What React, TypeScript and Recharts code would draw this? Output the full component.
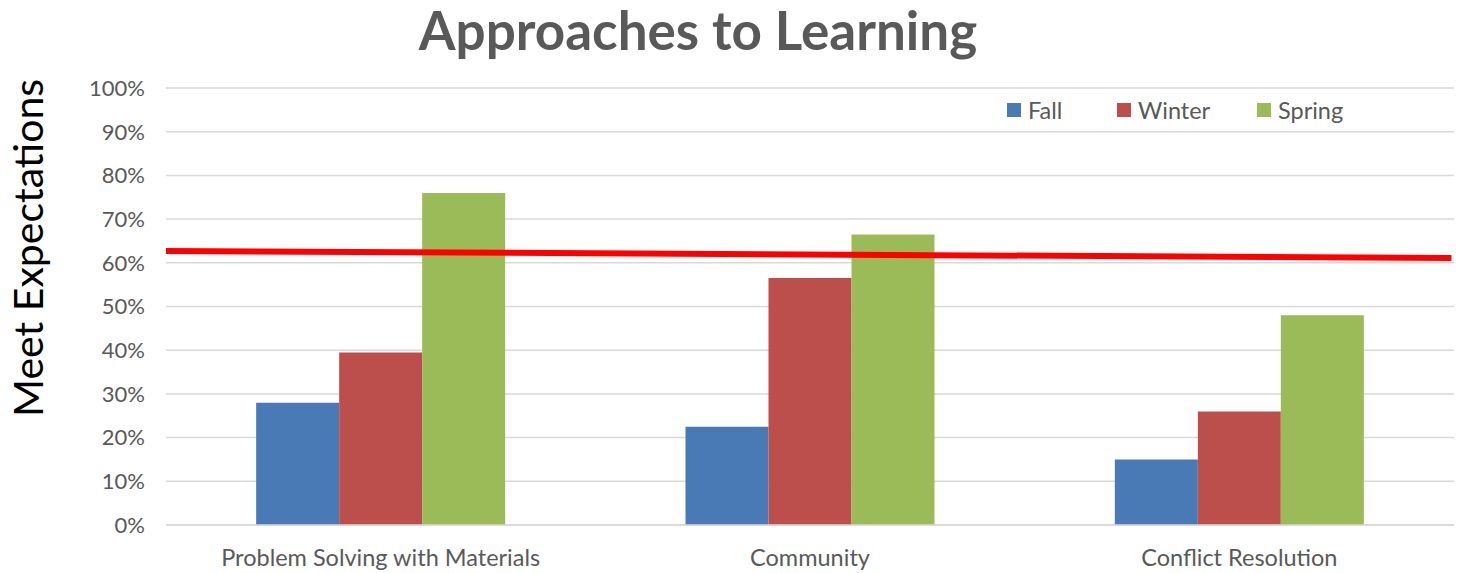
import React from 'react';
import {
  BarChart,
  Bar,
  XAxis,
  YAxis,
  CartesianGrid,
  ReferenceLine,
} from 'recharts';

const categories = ['Problem Solving with Materials', 'Community', 'Conflict Resolution'];
const fall = [28, 22.5, 15];
const winter = [39.5, 56.5, 26];
const spring = [76, 66.5, 48];
const yTicks = [0, 10, 20, 30, 40, 50, 60, 70, 80, 90, 100];
// hand-drawn target line, left and right ends
const targetLine = [62.7, 61.1];

const seriesColors = { Fall: '#4a7ab5', Winter: '#bc4f4b', Spring: '#9bbb58' };
const legendLeft = { Fall: 1007, Winter: 1117, Spring: 1257 };
const FONT = 'Lato, "Open Sans", sans-serif';

const data = categories.map((name, i) => ({
  name,
  Fall: fall[i],
  Winter: winter[i],
  Spring: spring[i],
}));

const LegendBox = () => (
  <>
    {(Object.keys(seriesColors) as (keyof typeof seriesColors)[]).map((k) => (
      <div
        key={k}
        style={{
          position: 'absolute',
          top: 96,
          left: legendLeft[k],
          height: 28,
          display: 'flex',
          alignItems: 'center',
          fontFamily: FONT,
          fontSize: 23.5,
          color: '#595959',
        }}
      >
        <span style={{ width: 14, height: 14, background: seriesColors[k], marginRight: 7, display: 'inline-block' }} />
        {k}
      </div>
    ))}
  </>
);

export default function App() {
  return (
    <div style={{ position: 'absolute', left: 0, top: 0, width: 1464, height: 573, background: '#fff' }}>
      <div
        style={{
          position: 'absolute',
          top: -2,
          left: 0,
          width: 1396,
          textAlign: 'center',
          fontFamily: FONT,
          fontWeight: 700,
          fontSize: 53,
          color: '#595959',
        }}
      >
        Approaches to Learning
      </div>
      <div
        style={{
          position: 'absolute',
          left: 27,
          top: 248,
          transform: 'translate(-50%, -50%) rotate(-90deg)',
          whiteSpace: 'nowrap',
          fontFamily: FONT,
          fontSize: 41,
          color: '#000',
        }}
      >
        Meet Expectations
      </div>
      <BarChart
        width={1464}
        height={573}
        data={data}
        margin={{ top: 88, right: 10, bottom: 0, left: 2 }}
        barCategoryGap="21%"
        barGap={0}
      >
        <CartesianGrid vertical={false} stroke="#d9d9d9" strokeWidth={1.5} />
        <XAxis
          dataKey="name"
          height={48}
          tickLine={false}
          axisLine={{ stroke: '#d9d9d9', strokeWidth: 1.5 }}
          tick={{ fill: '#595959', fontSize: 23.5, fontFamily: FONT }}
          tickMargin={18}
        />
        <XAxis
          xAxisId="num"
          dataKey="__none"
          type="number"
          domain={[0, 1]}
          allowDataOverflow
          hide
        />
        <YAxis
          width={164}
          domain={[0, 100]}
          ticks={yTicks}
          interval={0}
          tickFormatter={(v: number) => `${v}%`}
          axisLine={false}
          tickLine={false}
          tickSize={0}
          tickMargin={21}
          tick={{ fill: '#595959', fontSize: 22, fontFamily: FONT }}
        />
        <Bar dataKey="Fall" fill={seriesColors.Fall} isAnimationActive={false} />
        <Bar dataKey="Winter" fill={seriesColors.Winter} isAnimationActive={false} />
        <Bar dataKey="Spring" fill={seriesColors.Spring} isAnimationActive={false} />
        <ReferenceLine
          xAxisId="num"
          segment={[
            { x: 0, y: targetLine[0] },
            { x: 0.998, y: targetLine[1] },
          ]}
          stroke="#ff0000"
          strokeWidth={6}
        />
      </BarChart>
      <LegendBox />
    </div>
  );
}
